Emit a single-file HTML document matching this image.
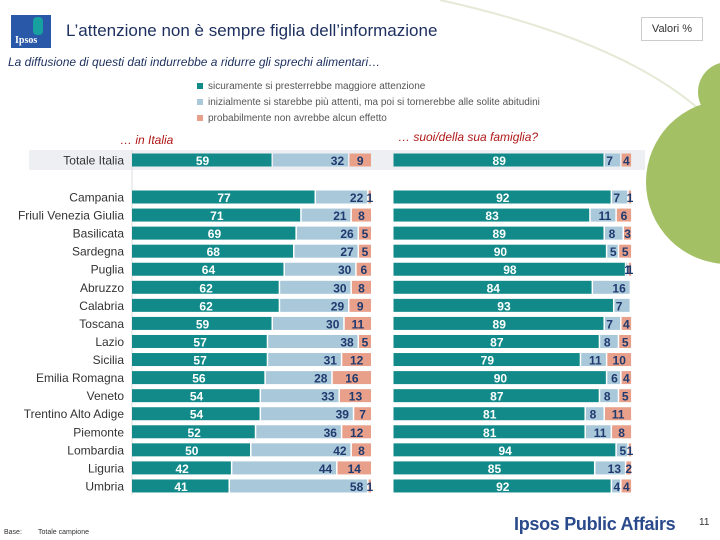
<!DOCTYPE html>
<html><head><meta charset="utf-8"><style>
body{margin:0;width:720px;height:540px;overflow:hidden;background:#fff;font-family:"Liberation Sans",sans-serif;position:relative}
.a{position:absolute}
</style></head><body>
<svg class="a" style="left:0;top:0" width="720" height="540">
<path d="M440 0 Q620 40 700 110" stroke="#e4ead6" stroke-width="2" fill="none"/>
<circle cx="728" cy="92" r="30" fill="#a3c065"/>
<circle cx="728" cy="182" r="82" fill="#a3c065"/>
</svg>
<div class="a" style="left:11px;top:15px;width:40px;height:33px;background:#2a58a8;color:#fff;font:bold 10px 'Liberation Serif',serif;"><span style="position:absolute;left:4px;bottom:2px">Ipsos</span><div style="position:absolute;left:22px;top:2px;width:10px;height:18px;background:#16a0a0;border-radius:4px"></div></div>
<div class="a" style="left:66px;top:21px;font-size:17px;color:#1c2f5e">L’attenzione non è sempre figlia dell’informazione</div>
<div class="a" style="left:641px;top:17px;width:60px;height:22px;border:1px solid #ccc;font-size:11px;color:#333;text-align:center;line-height:22px">Valori %</div>
<div class="a" style="left:8px;top:55px;font-size:12px;font-style:italic;color:#1c2f5e">La diffusione di questi dati indurrebbe a ridurre gli sprechi alimentari…</div>
<div class="a" style="left:197px;top:79px;font-size:10px;color:#555;line-height:16px">
<div><span style="display:inline-block;width:6px;height:6px;background:#138a8a;margin-right:5px"></span>sicuramente si presterrebbe maggiore attenzione</div>
<div><span style="display:inline-block;width:6px;height:6px;background:#a9c8da;margin-right:5px"></span>inizialmente si starebbe più attenti, ma poi si tornerebbe alle solite abitudini</div>
<div><span style="display:inline-block;width:6px;height:6px;background:#e8a08a;margin-right:5px"></span>probabilmente non avrebbe alcun effetto</div>
</div>
<div class="a" style="left:120px;top:133px;font-size:12px;font-style:italic;color:#b01818">… in Italia</div>
<div class="a" style="left:398px;top:130px;font-size:12px;font-style:italic;color:#b01818">… suoi/della sua famiglia?</div>
<div class="a" style="left:29px;top:150px;width:616px;height:20px;background:#eeeff3"></div>
<svg id="chart" class="a" style="left:0;top:0" width="720" height="540"></svg>
<div class="a" style="left:4px;top:529px;font-size:7px;color:#333">Base:</div>
<div class="a" style="left:38px;top:529px;font-size:7px;color:#333">Totale campione</div>
<div class="a" style="left:514px;top:514px;font-size:18px;font-weight:bold;color:#2a4a8c;letter-spacing:-0.3px">Ipsos Public Affairs</div>
<div class="a" style="left:699px;top:517px;font-size:10px;color:#333">11</div>
<script>
const categories=["Totale Italia","Campania","Friuli Venezia Giulia","Basilicata","Sardegna","Puglia","Abruzzo","Calabria","Toscana","Lazio","Sicilia","Emilia Romagna","Veneto","Trentino Alto Adige","Piemonte","Lombardia","Liguria","Umbria"];
const italiaSicuramente=[59,77,71,69,68,64,62,62,59,57,57,56,54,54,52,50,42,41];
const italiaInizialmente=[32,22,21,26,27,30,30,29,30,38,31,28,33,39,36,42,44,58];
const italiaNessuno=[9,1,8,5,5,6,8,9,11,5,12,16,13,7,12,8,14,1];
const famSicuramente=[89,92,83,89,90,98,84,93,89,87,79,90,87,81,81,94,85,92];
const famInizialmente=[7,7,11,8,5,1,16,7,7,8,11,6,8,8,11,5,13,4];
const famNessuno=[4,1,6,3,5,1,0,0,4,5,10,4,5,11,8,1,2,4];
const colors=["#138a8a","#a9c8da","#e8a08a"];
const svg=document.getElementById('chart');const NS="http://www.w3.org/2000/svg";
function yPos(i){return i===0?153.5:190.5+(i-1)*18.06;}
function mk(t,a){const e=document.createElementNS(NS,t);for(const k in a)e.setAttribute(k,a[k]);svg.appendChild(e);return e;}
const axL=v=>132+v*2.39, axR=v=>393.5+v*2.376;
categories.forEach((c,i)=>{
 const t=mk('text',{x:124,y:yPos(i)+11,'text-anchor':'end','font-size':12,fill:'#333','font-family':'Liberation Sans,sans-serif'});
 t.textContent=c;
 
 
});
function draw(ax,series,pfx){
 categories.forEach((c,i)=>{
  let acc=0;
  series.forEach((s,k)=>{
   const v=s[i];if(v<=0)return;
   const x0=ax(acc),x1=ax(acc+v);acc+=v;
   const r=mk('rect',{x:x0,y:yPos(i),width:x1-x0-(k<2?1.5:0),height:13,fill:colors[k]});
   
   
   const tx=k===0?(x0+x1)/2:(k===1&&v>6?x1-12:(x0+x1)/2);
   const t=mk('text',{x:tx,y:yPos(i)+11.5,'text-anchor':'middle','font-size':12,'font-weight':'bold',fill:k===0?'#fff':'#1f3a6e','font-family':'Liberation Sans,sans-serif'});
   t.textContent=v;
   
   
  });
 });
}
mk('line',{x1:132,y1:150,x2:132,y2:495,stroke:'#ddd','stroke-width':1});
draw(axL,[italiaSicuramente,italiaInizialmente,italiaNessuno],'italia');
draw(axR,[famSicuramente,famInizialmente,famNessuno],'famiglia');
</script>
</body></html>
